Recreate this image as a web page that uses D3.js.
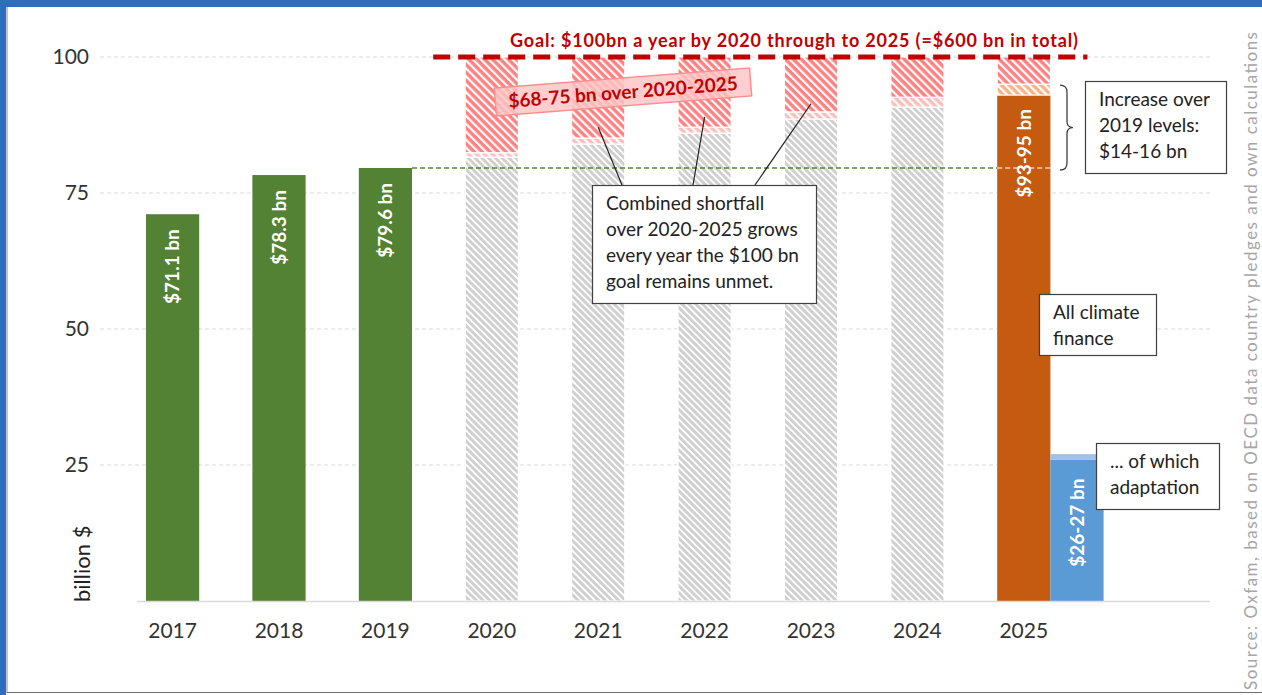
<!DOCTYPE html>
<html>
<head>
<meta charset="utf-8">
<script src="https://cdn.jsdelivr.net/npm/d3@7"></script>
<style>
  body { margin: 0; background: #fff; }
  svg { display: block; font-family: Lato, "Open Sans", sans-serif; }
</style>
</head>
<body>
<div id="chart"></div>
<script>
// data
var years = ["2017", "2018", "2019", "2020", "2021", "2022", "2023", "2024", "2025"];
var actualYears = ["2017", "2018", "2019"];
var actualValues = [71.1, 78.3, 79.6];
var actualLabels = ["$71.1 bn", "$78.3 bn", "$79.6 bn"];
var projYears = ["2020", "2021", "2022", "2023", "2024"];
var projLow = [81.6, 84.0, 86.0, 88.6, 90.8];
var projHigh = [82.4, 85.1, 87.1, 89.9, 92.6];
var total2025 = [93, 95];
var adapt2025 = [26, 27];
var goalValue = 100;
var yTicks = [25, 50, 75, 100];

var svgWidth = 1262;
var svgHeight = 695;

var svg = d3.select("#chart")
  .append("svg")
  .attr("width", svgWidth)
  .attr("height", svgHeight);

// patterns for hatched bars
var defs = svg.append("defs");
function hatch(id, bg, size, lineW) {
  var p = defs.append("pattern")
    .attr("id", id)
    .attr("patternUnits", "userSpaceOnUse")
    .attr("width", size)
    .attr("height", size)
    .attr("patternTransform", "rotate(-45)");
  p.append("rect").attr("width", size).attr("height", size).attr("fill", bg);
  p.append("rect").attr("width", lineW).attr("height", size).attr("fill", "#fff");
}
hatch("hGray", "#cfcfcf", 4.8, 1.9);
hatch("hRed", "#ff8080", 5.6, 2.2);
hatch("hPale", "#ffbdbd", 5.6, 2.2);
hatch("hOrange", "#f7b48a", 5.6, 2.2);

// frame
svg.append("rect").attr("x", 0).attr("y", 0).attr("width", svgWidth).attr("height", 7).attr("fill", "#2f6ebd");
svg.append("rect").attr("x", 0).attr("y", 0).attr("width", 6).attr("height", svgHeight).attr("fill", "#2f6ebd");
svg.append("line").attr("x1", 7).attr("x2", 7).attr("y1", 7).attr("y2", 693).attr("stroke", "#8c8c8c");
svg.append("line").attr("x1", 7).attr("x2", svgWidth).attr("y1", 692.5).attr("y2", 692.5).attr("stroke", "#6f6f6f");

// scales
var x = d3.scaleBand()
  .domain(years)
  .range([119.4, 1077])
  .paddingInner(0.5)
  .paddingOuter(0.25);
var bw = x.bandwidth();

var y = d3.scaleLinear()
  .domain([0, 100])
  .range([601, 57]);

// gridlines
svg.append("g").selectAll("line")
  .data(yTicks)
  .enter()
  .append("line")
  .attr("x1", 100).attr("x2", 1210)
  .attr("y1", d => y(d)).attr("y2", d => y(d))
  .attr("stroke", "#d9d9d9")
  .attr("stroke-dasharray", "4,3");

// y axis
var leftAxis = d3.axisLeft(y).tickValues(yTicks).tickSize(0).tickPadding(0);
var yAxis = svg.append("g")
  .attr("transform", "translate(89,0)")
  .call(leftAxis);
yAxis.select(".domain").remove();
yAxis.selectAll("text")
  .attr("font-size", 21)
  .attr("font-family", "Lato, sans-serif")
  .attr("fill", "#333");

// x axis
var bottomAxis = d3.axisBottom(x).tickSize(0).tickPadding(0);
var xAxis = svg.append("g")
  .attr("transform", "translate(0,623)")
  .call(bottomAxis);
xAxis.select(".domain").remove();
xAxis.selectAll("text")
  .attr("font-size", 21)
  .attr("font-family", "Lato, sans-serif")
  .attr("fill", "#333");

// axis title
svg.append("text")
  .attr("transform", "translate(90,602) rotate(-90)")
  .attr("font-size", 22)
  .attr("fill", "#222")
  .attr("text-anchor", "start")
  .text("billion $");

// source
svg.append("text")
  .attr("transform", "translate(1257,690) rotate(-90)")
  .attr("font-size", 17)
  .attr("fill", "#a6a6a6")
  .attr("textLength", 658)
  .attr("lengthAdjust", "spacing")
  .text("Source: Oxfam, based on OECD data country pledges and own calculations");

// actual bars
svg.append("g").selectAll("rect")
  .data(actualValues)
  .enter()
  .append("rect")
  .attr("x", (d, i) => x(actualYears[i]))
  .attr("y", d => y(d))
  .attr("width", bw)
  .attr("height", d => y(0) - y(d))
  .attr("fill", "#548235");

// projected bars 2020-2024
var proj = svg.append("g");
projYears.forEach(function(yr, i) {
  proj.append("rect")
    .attr("x", x(yr)).attr("width", bw)
    .attr("y", y(projLow[i])).attr("height", y(0) - y(projLow[i]))
    .attr("fill", "url(#hGray)")
    .attr("stroke", "#fff").attr("stroke-width", 1.2);
  proj.append("rect")
    .attr("x", x(yr)).attr("width", bw)
    .attr("y", y(projHigh[i])).attr("height", y(projLow[i]) - y(projHigh[i]))
    .attr("fill", "url(#hPale)")
    .attr("stroke", "#fff").attr("stroke-width", 1.2);
  proj.append("rect")
    .attr("x", x(yr)).attr("width", bw)
    .attr("y", y(goalValue)).attr("height", y(projHigh[i]) - y(goalValue))
    .attr("fill", "url(#hRed)")
    .attr("stroke", "#fff").attr("stroke-width", 1.2);
});

// 2025 bars
var x25 = x("2025");
svg.append("rect")
  .attr("x", x25).attr("width", bw)
  .attr("y", y(total2025[0])).attr("height", y(0) - y(total2025[0]))
  .attr("fill", "#c55a11");
svg.append("rect")
  .attr("x", x25).attr("width", bw)
  .attr("y", y(total2025[1])).attr("height", y(total2025[0]) - y(total2025[1]))
  .attr("fill", "url(#hOrange)")
  .attr("stroke", "#fff").attr("stroke-width", 1.2);
svg.append("rect")
  .attr("x", x25).attr("width", bw)
  .attr("y", y(goalValue)).attr("height", y(total2025[1]) - y(goalValue))
  .attr("fill", "url(#hRed)")
  .attr("stroke", "#fff").attr("stroke-width", 1.2);
svg.append("rect")
  .attr("x", x25 + bw).attr("width", bw)
  .attr("y", y(adapt2025[0])).attr("height", y(0) - y(adapt2025[0]))
  .attr("fill", "#5b9bd5");
svg.append("rect")
  .attr("x", x25 + bw).attr("width", bw)
  .attr("y", y(adapt2025[1])).attr("height", y(adapt2025[0]) - y(adapt2025[1]))
  .attr("fill", "#9dc3e6");

// x axis baseline
svg.append("line")
  .attr("x1", 137).attr("x2", 1210)
  .attr("y1", y(0) + 0.5).attr("y2", y(0) + 0.5)
  .attr("stroke", "#d9d9d9").attr("stroke-width", 1.5);

// 2019 level line
var base = actualValues[2];
svg.append("line")
  .attr("x1", x("2019") + bw).attr("x2", x25)
  .attr("y1", y(base)).attr("y2", y(base))
  .attr("stroke", "#548235").attr("stroke-width", 1.5)
  .attr("stroke-dasharray", "5,3");
svg.append("line")
  .attr("x1", x25).attr("x2", x25 + bw)
  .attr("y1", y(base)).attr("y2", y(base))
  .attr("stroke", "#f8cbad").attr("stroke-width", 1.5)
  .attr("stroke-dasharray", "5,3");

// goal line
svg.append("line")
  .attr("x1", x("2020") - 32).attr("x2", x25 + bw + 37)
  .attr("y1", y(goalValue)).attr("y2", y(goalValue))
  .attr("stroke", "#c00000").attr("stroke-width", 5)
  .attr("stroke-dasharray", "17,8");

svg.append("text")
  .attr("x", 794).attr("y", 47)
  .attr("text-anchor", "middle")
  .attr("font-size", 18).attr("font-weight", "bold")
  .attr("fill", "#c00000")
  .attr("textLength", 568)
  .attr("lengthAdjust", "spacing")
  .text("Goal: $100bn a year by 2020 through to 2025 (=$600 bn in total)");

// bar value labels
function barLabel(cx, top, txt, off) {
  svg.append("text")
    .attr("transform", `translate(${cx},${top + off}) rotate(-90)`)
    .attr("text-anchor", "end")
    .attr("dy", "0.36em")
    .attr("font-size", 19).attr("font-weight", "bold")
    .attr("fill", "#fff")
    .text(txt);
}
actualValues.forEach(function(v, i) {
  barLabel(x(actualYears[i]) + bw / 2, y(v), actualLabels[i], 15);
});
barLabel(x25 + bw / 2, y(total2025[0]), "$93-95 bn", 14);
barLabel(x25 + bw * 1.5, y(adapt2025[0]), "$26-27 bn", 19);

// leader lines to the shortfall boxes
var leaders = [["2021", 87.1, 622], ["2022", 89.0, 693], ["2023", 91.4, 755]];
svg.append("g").selectAll("line")
  .data(leaders)
  .enter()
  .append("line")
  .attr("x1", d => x(d[0]) + bw / 2)
  .attr("y1", d => y(d[1]))
  .attr("x2", d => d[2])
  .attr("y2", 185)
  .attr("stroke", "#222").attr("stroke-width", 1.2);

// pink rotated label
var pink = svg.append("g").attr("transform", "translate(623,92) rotate(-4.5)");
pink.append("rect")
  .attr("x", -128).attr("y", -14).attr("width", 256).attr("height", 28)
  .attr("fill", "#ffc4c4").attr("fill-opacity", 0.82)
  .attr("stroke", "#ff8f8f").attr("stroke-width", 1.5);
pink.append("text")
  .attr("text-anchor", "middle").attr("dy", "0.36em")
  .attr("font-size", 19).attr("font-weight", "bold")
  .attr("fill", "#c00000")
  .text("$68-75 bn over 2020-2025");

// text boxes
function textBox(bx, by, w, h, lines) {
  var g = svg.append("g");
  g.append("rect")
    .attr("x", bx + 0.5).attr("y", by + 0.5).attr("width", w).attr("height", h)
    .attr("fill", "#fff").attr("stroke", "#404040").attr("stroke-width", 1.2);
  g.selectAll("text")
    .data(lines)
    .enter()
    .append("text")
    .attr("x", bx + 14)
    .attr("y", (d, i) => by + 25 + i * 26)
    .attr("font-size", 19)
    .attr("fill", "#222")
    .text(d => d);
}
textBox(592, 185, 224, 118, ["Combined shortfall", "over 2020-2025 grows", "every year the $100 bn", "goal remains unmet."]);
textBox(1085, 81, 141, 92, ["Increase over", "2019 levels:", "$14-16 bn"]);
textBox(1039, 294, 117, 61, ["All climate", "finance"]);
textBox(1096, 443, 123, 66, ["... of which", "adaptation"]);

// brace
var bt = y(total2025[1]) + 1, bb = y(base) + 2, bm = (bt + bb) / 2;
svg.append("path")
  .attr("d", `M1060,${bt} Q1067,${bt} 1067,${bt + 7} L1067,${bm - 6} Q1067,${bm} 1073,${bm} Q1067,${bm} 1067,${bm + 6} L1067,${bb - 7} Q1067,${bb} 1060,${bb}`)
  .attr("fill", "none")
  .attr("stroke", "#404040").attr("stroke-width", 1.3);
</script>
</body>
</html>
